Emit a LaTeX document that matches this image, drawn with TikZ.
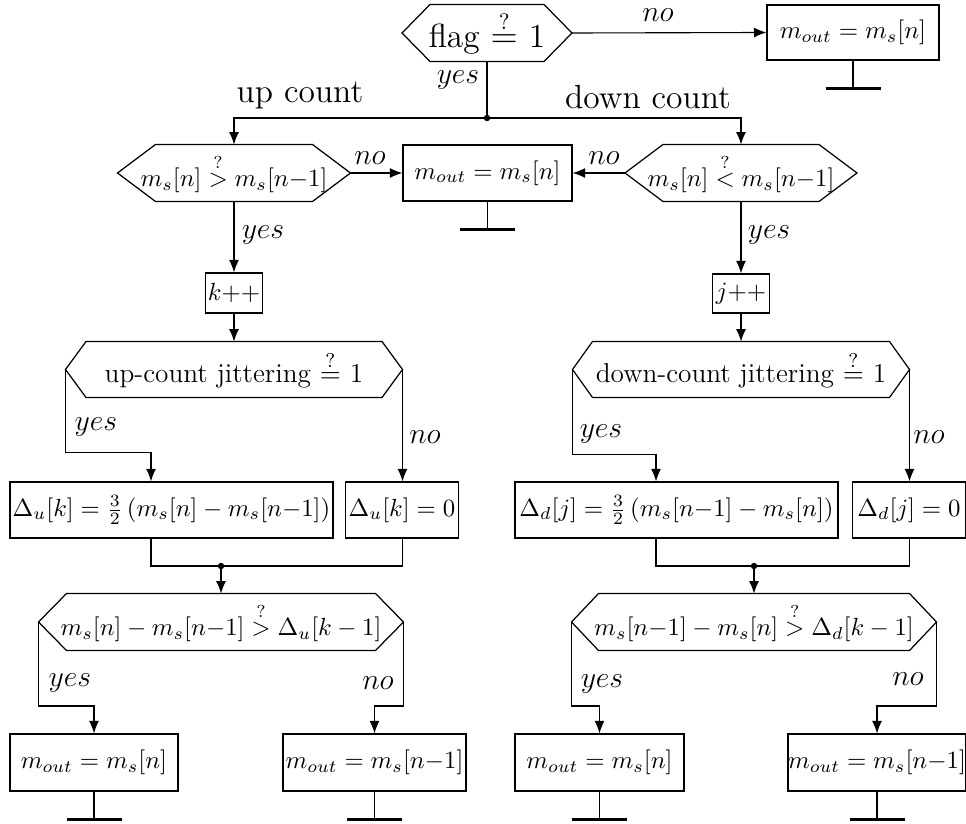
\documentclass[tikz,border=0pt]{standalone}
\usetikzlibrary{arrows.meta,calc}
\def\pxu{0.4032pt}
\newcommand\drawhex[2]{\draw[line width=0.5pt] (#1.west) -- ([xshift=#2*\pxu]#1.north west) -- ([xshift=-#2*\pxu]#1.north east) -- (#1.east) -- ([xshift=-#2*\pxu]#1.south east) -- ([xshift=#2*\pxu]#1.south west) -- cycle;}
\newcommand\drawgnd[2]{\draw[conn] (#1.south) -- ++(0,28) coordinate (#1g); \draw[gnd] ([xshift=-#2*\pxu]#1g) -- ([xshift=#2*\pxu]#1g);}
\begin{document}
\begin{tikzpicture}[x=0.4032pt,y=-0.4032pt,
  bsz/.style n args={2}{minimum width={#1*\pxu}, minimum height={#2*\pxu}},
  box/.style={draw, line width=0.5pt, inner sep=0pt, font=\fontsize{10}{12}\selectfont},
  hexn/.style={inner sep=0pt, font=\fontsize{10}{12}\selectfont},
  big/.style={font=\fontsize{13.5}{16}\selectfont},
  mid/.style={font=\fontsize{11}{13}\selectfont},
  lbl/.style={inner sep=0pt, font=\fontsize{11.5}{13}\selectfont},
  conn/.style={line width=0.45pt},
  arr/.style={conn,-{Latex[length=5pt,width=4pt]}},
  gnd/.style={line width=1.4pt},
  dot/.style={fill, circle, inner sep=0pt, minimum size=2.6pt}]
\useasboundingbox (0,0) rectangle (966,823);

% top
\node[hexn, big, bsz={169}{56}] (flag) at (487,33) {flag $\stackrel{?}{=}$ 1};
\drawhex{flag}{28}
\node[box, bsz={172}{55}] (out0) at (853,32.5) {$m_{out}=m_s[n]$};
\drawgnd{out0}{27.5}
\draw[arr] (flag.east) -- (out0.west);
\node[lbl] (lno0) at (658,15) {$no$};
\node[lbl] (lyes0) at (458,80) {$yes$};
\coordinate (j0) at (487,118);
\draw[conn] (flag.south) -- (j0);
\node[dot] (dj0) at (j0) {};
\node[big, inner sep=0pt] (lup) at (300,95) {up count};
\node[big, inner sep=0pt] (ldown) at (648,97) {down count};

% second row
\node[hexn, bsz={232}{56}] (h2L) at (234,173) {$m_s[n] \stackrel{?}{>} m_s[n{-}1]$};
\drawhex{h2L}{38}
\node[hexn, bsz={231}{56}] (h2R) at (741,173) {$m_s[n] \stackrel{?}{<} m_s[n{-}1]$};
\drawhex{h2R}{38}
\node[box, bsz={169}{56}] (midb) at (487.5,173) {$m_{out}=m_s[n]$};
\drawgnd{midb}{27.5}
\draw[arr] (j0) -| (h2L.north);
\draw[arr] (j0) -| (h2R.north);
\draw[arr] (h2L.east) -- (midb.west);
\draw[arr] (h2R.west) -- (midb.east);
\node[lbl] (lno1) at (370,158) {$no$};
\node[lbl] (lno2) at (604,158) {$no$};
\node[lbl] (lyes1) at (263,235) {$yes$};
\node[lbl] (lyes2) at (769,235) {$yes$};

% counters
\node[box, bsz={57}{40}] (kpp) at (234,293) {$k{+}{+}$};
\node[box, bsz={57}{39}] (jpp) at (741,293.5) {$j{+}{+}$};
\draw[arr] (h2L.south) -- (kpp.north);
\draw[arr] (h2R.south) -- (jpp.north);

% jittering
\node[hexn, mid, bsz={336}{55}] (h3L) at (234,369.5) {up-count jittering $\stackrel{?}{=}$ 1};
\drawhex{h3L}{20.5}
\node[hexn, mid, bsz={336}{55}] (h3R) at (741,369.5) {down-count jittering $\stackrel{?}{=}$ 1};
\drawhex{h3R}{20}
\draw[arr] (kpp.south) -- (h3L.north);
\draw[arr] (jpp.south) -- (h3R.north);

\node[box, bsz={323}{56}] (duA) at (171.5,510) {$\Delta_u[k]=\frac{3}{2}\,(m_s[n]-m_s[n{-}1])$};
\node[box, bsz={113}{56}] (duB) at (402,510) {$\Delta_u[k]=0$};
\node[box, bsz={323}{56}] (ddA) at (676.5,510) {$\Delta_d[j]=\frac{3}{2}\,(m_s[n{-}1]-m_s[n])$};
\node[box, bsz={113}{56}] (ddB) at (909,510) {$\Delta_d[j]=0$};

\draw[arr] (h3L.west) -- ++(0,83) -| ([xshift=-20.5*\pxu]duA.north);
\draw[arr] (h3L.east) -- (h3L.east |- duB.north);
\draw[arr] (h3R.west) -- ++(0,85) -| ([xshift=-20.5*\pxu]ddA.north);
\draw[arr] (h3R.east) -- (h3R.east |- ddB.north);
\node[lbl] (lyes3) at (96,427) {$yes$};
\node[lbl] (lno3) at (425,437) {$no$};
\node[lbl] (lyes4) at (601,434) {$yes$};
\node[lbl] (lno4) at (929,437) {$no$};

% merges
\coordinate (mL) at (221,566);
\coordinate (mR) at (754,566);
\draw[conn] ([xshift=-20.5*\pxu]duA.south) |- (mL) -| (h3L.east |- duB.south);
\draw[conn] ([xshift=-20.5*\pxu]ddA.south) |- (mR) -| (h3R.east |- ddB.south);
\node[dot] (dmL) at (mL) {};
\node[dot] (dmR) at (mR) {};

% last comparisons
\node[hexn, bsz={364}{56}] (h4L) at (221,622) {$m_s[n]-m_s[n{-}1] \stackrel{?}{>} \Delta_u[k-1]$};
\drawhex{h4L}{28}
\node[hexn, bsz={364}{56}] (h4R) at (754,622) {$m_s[n{-}1]-m_s[n] \stackrel{?}{>} \Delta_d[k-1]$};
\drawhex{h4R}{27}
\draw[arr] (mL) -- (h4L.north);
\draw[arr] (mR) -- (h4R.north);

\node[box, bsz={168}{57}] (B1) at (94,762.5) {$m_{out}=m_s[n]$};
\node[box, bsz={183}{57}] (B2) at (374.5,762.5) {$m_{out}=m_s[n{-}1]$};
\node[box, bsz={169}{57}] (B3) at (599.5,762.5) {$m_{out}=m_s[n]$};
\node[box, bsz={176}{57}] (B4) at (877,762.5) {$m_{out}=m_s[n{-}1]$};
\draw[arr] (h4L.west) -- ++(0,84) -| (B1.north);
\draw[arr] (h4L.east) -- ++(0,84) -| (B2.north);
\draw[arr] (h4R.west) -- ++(0,84) -| (B3.north);
\draw[arr] (h4R.east) -- ++(0,84) -| (B4.north);
\drawgnd{B1}{27.5}
\drawgnd{B2}{27.5}
\drawgnd{B3}{27.5}
\drawgnd{B4}{27.5}
\node[lbl] (lyes5) at (70,683) {$yes$};
\node[lbl] (lno5) at (378,683) {$no$};
\node[lbl] (lyes6) at (602,684) {$yes$};
\node[lbl] (lno6) at (908,679) {$no$};
\end{tikzpicture}
\end{document}
